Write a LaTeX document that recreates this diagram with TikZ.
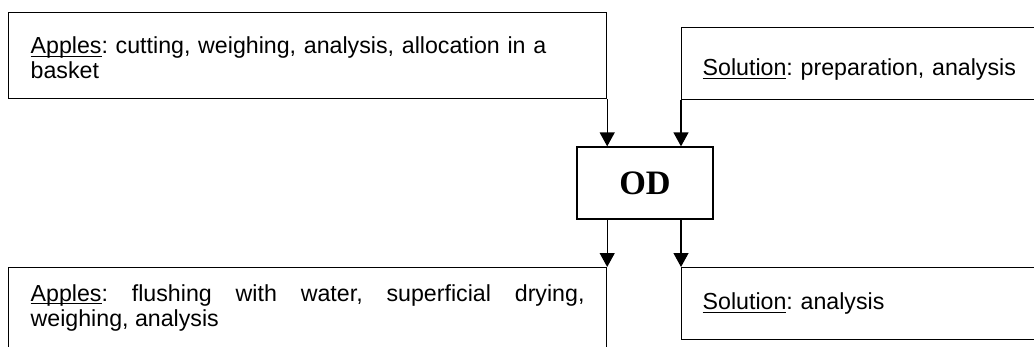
\documentclass[tikz,border=0pt]{standalone}
\usepackage{fontspec}
\setmainfont{Liberation Sans}
\newfontfamily\odfont{Liberation Serif}
\usepackage{tikz}
\usetikzlibrary{positioning,arrows.meta}
\newcommand{\uterm}[1]{\underline{\smash{#1}}}
\frenchspacing
\hyphenpenalty=10000

\begin{document}
\begin{tikzpicture}[x=0.02cm, y=-0.02cm,
  stage/.style={draw, line width=0.75pt, rectangle, anchor=north west,
    inner xsep=0.44cm, align=left, font=\fontsize{13.2}{14.4}\selectfont},
  flow/.style={line width=0.75pt, -{Triangle[length=0.28cm, width=0.3cm]}}]
% canvas 1034 x 347, coordinates in pixels from the top left
\useasboundingbox (0,0) rectangle (1034,347);
\clip (0,0) rectangle (1034,347);

% 1. Input boxes
\node[stage, text width=11.08cm, minimum height=1.72cm, text height=0.43cm] (applesin) at (8,12)
  {\uterm{Apples}: cutting, weighing, analysis, allocation in a basket};
\node[stage, inner xsep=0.42cm, text width=8cm, minimum height=1.44cm,
  text height=0.49cm, text depth=0cm] (solin) at (681,27)
  {\uterm{Solution}: preparation, analysis};

% 2. Osmotic dehydration step
\node[draw, line width=0.75pt, minimum width=2.72cm, minimum height=1.44cm,
  font=\odfont\bfseries\fontsize{19.5}{22}\selectfont] (od) at (645,183) {OD};

% 3. Output boxes
\node[stage, text width=11.08cm, align=justify, inner ysep=0.35cm,
  text height=0.32cm, text depth=2cm] (applesout) at (8,267)
  {\uterm{Apples}: flushing with water, superficial drying,\linebreak weighing, analysis};
\node[stage, inner xsep=0.42cm, text width=8cm, minimum height=1.44cm] (solout) at (681,267)
  {\uterm{Solution}: analysis};

% 4. Arrows
\draw[flow] (applesin.south east) -- (applesin.south east |- od.north);
\draw[flow] (solin.south west) -- (solin.south west |- od.north);
\draw[flow] (od.south -| applesout.north east) -- (applesout.north east);
\draw[flow] (od.south -| solout.north west) -- (solout.north west);

\end{tikzpicture}
\end{document}
